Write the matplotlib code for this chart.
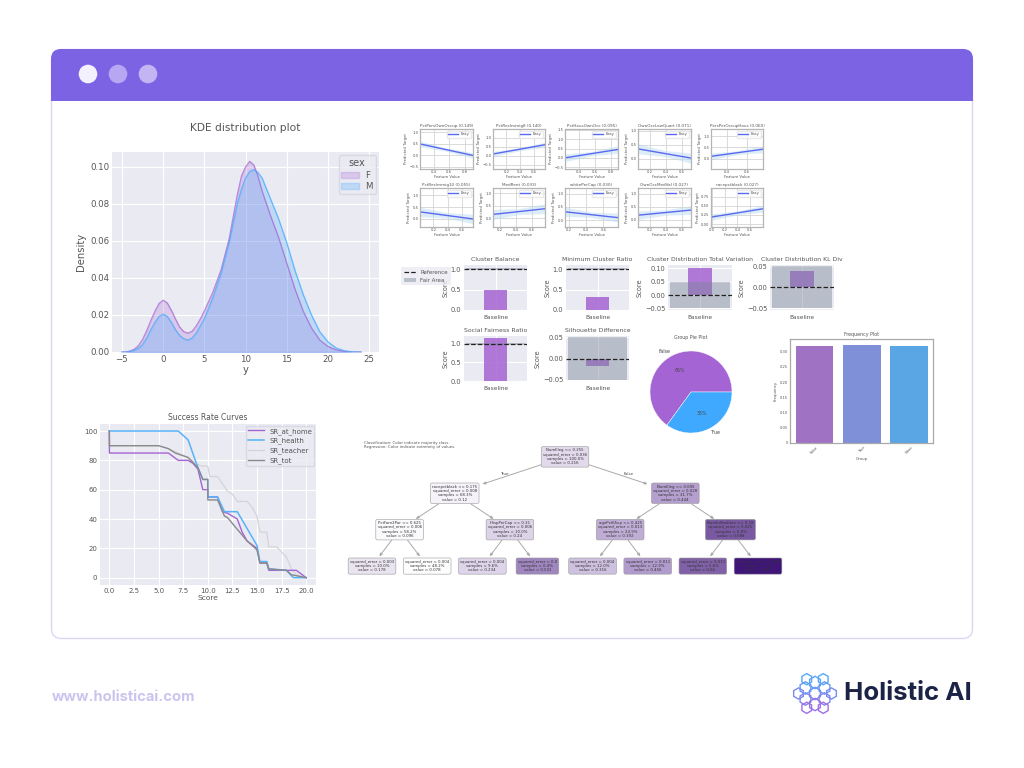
import math
import matplotlib
matplotlib.use("Agg")
import matplotlib.pyplot as plt
from matplotlib.patches import FancyBboxPatch, Rectangle, Circle, RegularPolygon
from matplotlib.colors import LinearSegmentedColormap, to_rgb

W, H = 1024, 768
PURPLE = "#A564D3"
BLUE = "#3FA9FF"
GREY_TXT = "#555555"
SNS_BG = "#EAEAF2"

# KDE
kde_x = [-5,-4.5,-4,-3.5,-3,-2.5,-2,-1.5,-1,-0.5,0,0.5,1,1.5,2,2.5,3,3.5,4,4.5,5,6,7,8,9,9.5,10,10.5,11,11.5,12,13,14,15,16,17,18,19,20,21,22,23,24]
kde_f = [0,0,0.0006,0.0015,0.0035,0.0068,0.0115,0.017,0.022,0.0262,0.028,0.0265,0.0225,0.0178,0.0135,0.011,0.0102,0.0112,0.014,0.0178,0.0222,0.032,0.044,0.061,0.085,0.095,0.1,0.103,0.101,0.095,0.087,0.074,0.062,0.048,0.034,0.022,0.013,0.0065,0.003,0.0012,0.0003,0,0]
kde_m = [0,0,0.0003,0.001,0.002,0.004,0.0075,0.012,0.016,0.0192,0.0205,0.0192,0.016,0.012,0.009,0.0072,0.0065,0.0075,0.0102,0.014,0.018,0.029,0.042,0.059,0.08,0.088,0.094,0.0975,0.0985,0.097,0.094,0.083,0.072,0.059,0.044,0.031,0.02,0.011,0.0055,0.0022,0.0007,0.0001,0]

# Success rate curves
sr_home_x = [0,0.01,6,7,8,8.5,9,9.5,10,10.01,11,11.5,12,13,13.5,14,15,15.3,16,16.2,18,19,20]
sr_home_y = [100,85,85,80,80,78,74,60,60,55,55,45,44,40,31,25,20,10,10,5,5,5,0]
sr_health_x = [0,7,8,9,9.5,10,10.01,11,11.7,13,15,15.3,16,16.2,18,18.7,20]
sr_health_y = [100,100,94,75,67,67,55,55,45,45,22,11,11,6,5,0,0]
sr_teacher_x = [0,0.01,5,6,7,8,9,9.5,10,10.2,11,11.5,12,12.5,13,14,14.5,15,15.3,16,16.2,17,18,18.5,19,20]
sr_teacher_y = [100,90,90,88,85,82,77,76,76,69,69,64,59,57,52,52,48,42,31,31,21,21,14,6,2,0]
sr_tot_x = [0,0.01,5,6,6.7,8,9,9.5,10,10.01,11,11.7,12,13,14,15,15.3,16,16.2,18,18.5,20]
sr_tot_y = [100,90,90,88,85,82,75,67,67,53,53,42,41,33,25,19,10,10,6,5,2,0]

# Feature panels
feat_titles = ["PctPersOwnOccup (0.149)","PctRecImmig8 (0.140)","PctHousOwnOcc (0.095)","OwnOccLowQuart (0.071)","PersPerOccupHous (0.060)",
               "PctRecImmig10 (0.055)","MedRent (0.033)","whitePerCap (0.030)","OwnOccMedVal (0.027)","racepctblack (0.027)"]
feat_x0 = [0.226,0.005,0.225,0.045,0.24,0.01,0.12,0.157,0.045,-0.015]
feat_x1 = [0.908,0.76,0.89,0.72,0.767,0.757,0.76,0.77,0.72,0.8]
feat_y0 = [0.5,0.1,0.0,0.35,0.1,0.3,0.15,0.32,0.17,0.19]
feat_y1 = [0.0,0.62,0.45,0.02,0.42,0.0,0.38,0.1,0.37,0.42]
feat_band = [0.12,0.14,0.2,0.18,0.15,0.2,0.2,0.17,0.17,0.09]
feat_ylim = [(-0.59,1.15),(-0.74,1.5),(-0.6,1.55),(-0.37,1.06),(-0.47,1.33),(-0.34,1.31),(-0.36,1.22),(-0.25,1.21),(-0.29,1.23),(-0.08,0.99)]
feat_yt = [[-0.5,0,0.5,1],[-0.5,0,0.5,1],[-0.5,0,0.5,1,1.5],[0,0.5,1],[0,0.5,1],[0,0.5,1],[0,0.5,1],[0,0.5,1],[0,0.5,1],[0,0.25,0.5,0.75]]
feat_xt = [[0.4,0.6,0.8],[0.2,0.4,0.6],[0.4,0.6,0.8],[0.2,0.4,0.6],[0.4,0.6],[0.2,0.4,0.6],[0.2,0.4,0.6],[0.2,0.4,0.6],[0.2,0.4,0.6],[0.0,0.2,0.4,0.6]]

# Fairness panels
fair_titles = ["Cluster Balance","Minimum Cluster Ratio","Cluster Distribution Total Variation","Cluster Distribution KL Div","Social Fairness Ratio","Silhouette Difference"]
fair_vals = [0.5,0.32,0.103,0.04,1.15,-0.018]
fair_ref = [1,1,0,0,1,0]
fair_lo = [0.97,0.97,-0.05,-0.05,0.97,-0.05]
fair_hi = [1.03,1.03,0.05,0.05,1.03,0.05]
fair_ylim = [(0,1.1),(0,1.1),(-0.056,0.1125),(-0.054,0.0535),(0,1.21),(-0.053,0.053)]
fair_yt = [[0,0.5,1],[0,0.5,1],[-0.05,0,0.05,0.1],[-0.05,0,0.05],[0,0.5,1],[-0.05,0,0.05]]
fair_fmt = ["%.1f","%.1f","%.2f","%.2f","%.1f","%.2f"]

# Pie
pie_vals = [65,35]
pie_labels = ["False","True"]

# Frequency
freq_groups = ["False","True","None"]
freq_vals = [0.318,0.323,0.320]
freq_cols = ["#9F72C4","#7F8FD8","#5AA5E3"]

# Tree
tree_parent = [-1,0,0,1,1,2,2,3,3,4,4,5,5,6,6]
tree_depth = [0,1,1,2,2,2,2,3,3,3,3,3,3,3,3]
tree_pos = [3.5,1.5,5.5,0.5,2.5,4.5,6.5,0,1,2,3,4,5,6,7]
tree_split = ["NumIlleg <= 0.255","racepctblack <= 0.175","NumIlleg <= 0.695","PctFam2Par <= 0.625","HispPerCap <= 0.31","agePct65up <= 0.425","NumInShelters <= 0.18"]+[""]*8
tree_err = ["0.036","0.008","0.028","0.006","0.006","0.013","0.025","0.003","0.004","0.004","0.0","0.004","0.011","0.011","0.009"]
tree_samples = ["100.0%","68.3%","31.7%","58.2%","10.0%","24.9%","6.8%","10.0%","48.2%","9.6%","0.4%","12.0%","12.9%","5.6%","1.2%"]
tree_value = [0.216,0.12,0.444,0.096,0.24,0.392,0.688,0.178,0.078,0.234,0.531,0.316,0.456,0.66,0.861]

plt.rcParams["font.family"] = "DejaVu Sans"
fig = plt.figure(figsize=(W/100, H/100), dpi=100, facecolor="white")

def axpx(l, t, r, b, **kw):
    return fig.add_axes([l/W, 1-b/H, (r-l)/W, (b-t)/H], **kw)

def sns_style(ax, fs):
    ax.set_facecolor(SNS_BG)
    for s in ax.spines.values():
        s.set_visible(False)
    ax.grid(True, color="white", lw=0.8)
    ax.set_axisbelow(True)
    ax.tick_params(length=0, labelsize=fs, labelcolor=GREY_TXT, pad=2)

# page frame
bg = axpx(0, 0, W, H, zorder=-5)
bg.set_xlim(0, W); bg.set_ylim(H, 0); bg.axis("off")
bg.add_patch(FancyBboxPatch((51.5,49.5),921,589,boxstyle="round,pad=0,rounding_size=10",fc="white",ec="#DCD6F4",lw=1))
hdr = FancyBboxPatch((51,49),922,120,boxstyle="round,pad=0,rounding_size=10",fc="#7B63E4",ec="none")
bg.add_patch(hdr)
hdr.set_clip_path(Rectangle((0,0),W,101,transform=bg.transData))
for cx, col in zip([88,118,148],["#F4F1FE","#B7A6F2","#C3B5F4"]):
    bg.add_patch(Circle((cx,74),9.3,fc=col,ec="none"))
bg.text(52,697,"www.holisticai.com",color="#C9C5EE",fontsize=10.6,fontweight="bold",va="center",family="Inter")
bg.text(844,694,"Holistic AI",color="#1B2347",fontsize=18.6,fontweight="bold",va="center",family="Inter")
# logo hexagons
logo = [(815,693.5,0,6.2)]
for k in range(6):
    a = math.radians(30+60*k)
    logo.append((815+11*math.cos(a),693.5+11*math.sin(a),0,6.2))
for k in range(6):
    a = math.radians(60*k)
    logo.append((815+16.5*math.cos(a),693.5+16.5*math.sin(a),0,5.6))
for cx, cy, _, rad in logo:
    f = min(max((cy-673)/42,0),1)
    c0, c1 = to_rgb("#45B4FF"), to_rgb("#B060E0")
    col = tuple(a+(b-a)*f for a,b in zip(c0,c1))
    bg.add_patch(RegularPolygon((cx,cy),6,radius=rad,fc="none",ec=col,lw=1))

# KDE
ax = axpx(112,152,379,352)
sns_style(ax,6.2)
ax.plot(kde_x,kde_f,color=PURPLE,lw=0.8,alpha=0.7)
ax.fill_between(kde_x,kde_f,color=PURPLE,alpha=0.25,label="F",lw=1)
ax.plot(kde_x,kde_m,color=BLUE,lw=0.8,alpha=0.7)
ax.fill_between(kde_x,kde_m,color=BLUE,alpha=0.25,label="M",lw=1)
ax.set_xlim(-6.2,26.2); ax.set_ylim(0,0.108)
ax.set_xticks(range(-5,30,5)); ax.set_yticks([0,0.02,0.04,0.06,0.08,0.10])
ax.set_yticklabels(["0.00","0.02","0.04","0.06","0.08","0.10"])
ax.set_xticklabels(["\u22125","0","5","10","15","20","25"])
ax.set_xlabel("y",fontsize=7.2,color=GREY_TXT,labelpad=1)
ax.set_ylabel("Density",fontsize=7.2,color=GREY_TXT,labelpad=3)
ax.set_title("KDE distribution plot",fontsize=7.7,color=GREY_TXT,pad=15)
h,l = ax.get_legend_handles_labels()
for hh,c in zip(h,[PURPLE,BLUE]):
    hh.set_edgecolor(c)
leg = ax.legend(h,l,title="sex",fontsize=6.2,title_fontsize=7,loc="upper right",facecolor=SNS_BG,edgecolor="#D5D5E0",labelcolor=GREY_TXT,
                borderaxespad=0.4,handlelength=2,labelspacing=0.3,borderpad=0.3)
leg.get_title().set_color(GREY_TXT)

# Success
ax = axpx(100,424,316,585)
sns_style(ax,5.0)
ax.plot(sr_teacher_x,sr_teacher_y,color="#D4D4D8",lw=0.9,label="SR_teacher",zorder=2)
ax.plot(sr_home_x,sr_home_y,color=PURPLE,lw=1.0,label="SR_at_home",zorder=3)
ax.plot(sr_health_x,sr_health_y,color="#56B2FA",lw=1.1,label="SR_health",zorder=4)
ax.plot(sr_tot_x,sr_tot_y,color="#8A8A8A",lw=1.0,label="SR_tot",zorder=5)
ax.set_xlim(-0.95,21); ax.set_ylim(-5,104.8)
ax.set_xticks([0,2.5,5,7.5,10,12.5,15,17.5,20]); ax.set_yticks([0,20,40,60,80,100])
ax.set_xlabel("Score",fontsize=5.4,color=GREY_TXT,labelpad=1)
ax.set_title("Success Rate Curves",fontsize=5.5,color=GREY_TXT,pad=3)
h,l = ax.get_legend_handles_labels()
order = [1,2,0,3]
ax.legend([h[i] for i in order],[l[i] for i in order],fontsize=5.0,loc="upper right",facecolor=SNS_BG,edgecolor="#D5D5E0",
          labelcolor=GREY_TXT,borderaxespad=0.25,labelspacing=0.45,borderpad=0.3,handlelength=2.2)

# Feature grid
cols = [(420,473),(493,545),(565,618),(638,691),(711,763)]
rows = [(129,169),(188,227)]
for i, t in enumerate(feat_titles):
    l, r = cols[i%5]; tp, b = rows[i//5]
    ax = axpx(l,tp,r,b,facecolor="white")
    x0,x1 = feat_x0[i],feat_x1[i]
    xm = (x0+x1)/2
    ym = (feat_y0[i]+feat_y1[i])/2
    w = feat_band[i]
    ax.fill_between([x0,xm,x1],[feat_y0[i]-w,ym-w*0.6,feat_y1[i]-w],[feat_y0[i]+w,ym+w*0.6,feat_y1[i]+w],color="#BBDDF2",alpha=0.5,lw=0)
    ax.plot([x0,x1],[feat_y0[i],feat_y1[i]],color="#5A68F0",lw=1.0,label="Easy")
    ax.set_xlim(x0,x1); ax.set_ylim(*feat_ylim[i])
    ax.set_xticks(feat_xt[i]); ax.set_yticks(feat_yt[i])
    ax.grid(True,color="#D5D5D5",lw=0.6)
    ax.set_axisbelow(True)
    ax.tick_params(length=0,labelsize=2.7,labelcolor=GREY_TXT,pad=1)
    for s in ax.spines.values():
        s.set_color("#B5B5B5"); s.set_linewidth(0.9)
    ax.set_title(t,fontsize=3.0,color=GREY_TXT,pad=1.5)
    ax.set_xlabel("Feature Value",fontsize=2.7,color=GREY_TXT,labelpad=0.8)
    ax.set_ylabel("Predicted Target",fontsize=2.7,color=GREY_TXT,labelpad=1)
    ax.legend(fontsize=2.7,loc="upper right",frameon=True,edgecolor="#E5E5E5",labelcolor=GREY_TXT,borderpad=0.4,handlelength=2.6)

# Fairness
rects = [(464,265,527,310),(566,265,629,310),(668,265,732,310),(770,265,834,310),(464,336,527,381),(566,336,629,381)]
for i,t in enumerate(fair_titles):
    l,tp,r,b = rects[i]
    ax = axpx(l,tp,r,b)
    sns_style(ax,4.8)
    ax.bar([0],[fair_vals[i]],width=0.36,color=PURPLE,alpha=0.85,zorder=2)
    ax.bar([0],[fair_hi[i]-fair_lo[i]],bottom=fair_lo[i],width=0.94,color="#7A8799",alpha=0.45,zorder=3,label="Fair Area")
    ax.axhline(fair_ref[i],color="#222222",ls="--",lw=0.9,zorder=4,label="Reference")
    ax.set_xlim(-0.5,0.5); ax.set_ylim(*fair_ylim[i])
    ax.set_xticks([0]); ax.set_xticklabels(["Baseline"],fontsize=4.2)
    ax.tick_params(axis="x",pad=3.5)
    ax.set_yticks(fair_yt[i])
    ax.set_yticklabels([(fair_fmt[i]%v).replace("-","\u2212") for v in fair_yt[i]])
    ax.set_ylabel("Score",fontsize=4.8,color=GREY_TXT,labelpad=1.5)
    ax.set_title(t,fontsize=4.45,color=GREY_TXT,pad=3)
    if i==0:
        h,lb = ax.get_legend_handles_labels()
        ax.legend(h,lb,fontsize=4.0,loc="center left",bbox_to_anchor=(-1.0,0.75),bbox_transform=ax.transAxes,
                  facecolor=SNS_BG,edgecolor="none",labelcolor=GREY_TXT,borderaxespad=0,borderpad=0.5,handlelength=2.2,labelspacing=0.5)

# Pie
ax = axpx(650,351,732,433,facecolor="none")
wedges,texts,auto = ax.pie(pie_vals,labels=pie_labels,colors=["#A564D3","#3FA9FF"],autopct="%d%%",
    wedgeprops=dict(edgecolor="white",lw=0.3),textprops=dict(fontsize=3.4,color="#444444"),radius=1)
ax.set_xlim(-1,1); ax.set_ylim(-1,1)
ax.set_title("Group Pie Plot",fontsize=3.4,color=GREY_TXT,pad=9)

# Frequency
ax = axpx(790,339,933,443,facecolor="white")
ax.bar(range(3),freq_vals,width=0.8,color=freq_cols)
ax.set_xlim(-0.52,2.505); ax.set_ylim(0,0.342)
ax.set_xticks(range(3)); ax.set_xticklabels(freq_groups,rotation=45)
ax.set_yticks([0,0.05,0.1,0.15,0.2,0.25,0.3])
ax.set_yticklabels(["0","0.05","0.10","0.15","0.20","0.25","0.30"])
ax.tick_params(length=0,labelsize=2.6,labelcolor=GREY_TXT,pad=1.5)
for s in ax.spines.values():
    s.set_color("#AAAAAA"); s.set_linewidth(0.9)
ax.set_xlabel("Group",fontsize=2.8,color=GREY_TXT,labelpad=1.5)
ax.set_ylabel("Frequency",fontsize=2.8,color=GREY_TXT,labelpad=1.5)
ax.set_title("Frequency Plot",fontsize=3.4,color=GREY_TXT,pad=2.5)

# Tree
ax = axpx(345,435,790,585,facecolor="none")
ax.set_xlim(-0.49,7.58); ax.set_ylim(3.52,-0.6); ax.axis("off")
cm = LinearSegmentedColormap.from_list("tree",[(0,"#FFFFFF"),(0.47,"#B5A0CF"),(0.78,"#7A5AA3"),(1,"#40157A")])
def clip_frac(dx, dy, hw, hh):
    return min(hw/abs(dx), hh/abs(dy))
for i,(p,d,x) in enumerate(zip(tree_parent,tree_depth,tree_pos)):
    lines = []
    if tree_split[i]:
        lines.append(tree_split[i])
    lines += ["squared_error = "+tree_err[i],"samples = "+tree_samples[i],"value = %g"%tree_value[i]]
    c = cm((tree_value[i]-0.07)/0.79)
    ax.text(x,d,"\n".join(lines),ha="center",va="center",fontsize=2.75,color="#333333",linespacing=1.12,zorder=3,
            bbox=dict(boxstyle="round,pad=0.45",fc=c,ec="#999999",lw=0.4))
    if p>=0:
        dx, dy = x-tree_pos[p], d-tree_depth[p]
        fa = clip_frac(dx,dy,0.43,0.29)
        fb = clip_frac(dx,dy,0.5,0.26 if d==3 else 0.29)
        ax.annotate("",xy=(x-dx*fb,d-dy*fb),xytext=(tree_pos[p]+dx*fa,tree_depth[p]+dy*fa),
                    arrowprops=dict(arrowstyle="-|>,head_length=0.3,head_width=0.12",mutation_scale=6,color="#AAAAAA",lw=0.7,shrinkA=0,shrinkB=0),zorder=1)
ax.text(2.39,0.46,"True",fontsize=2.9,color="#444444",ha="center",va="center")
ax.text(4.65,0.46,"False",fontsize=2.9,color="#444444",ha="center",va="center")
ax.text(-0.14,-0.33,"Classification: Color indicate majority class.\nRegression: Color indicate extremity of values.",fontsize=2.75,color="#555555",ha="left",va="center",linespacing=1.1)

fig.savefig("out.png",dpi=100)
